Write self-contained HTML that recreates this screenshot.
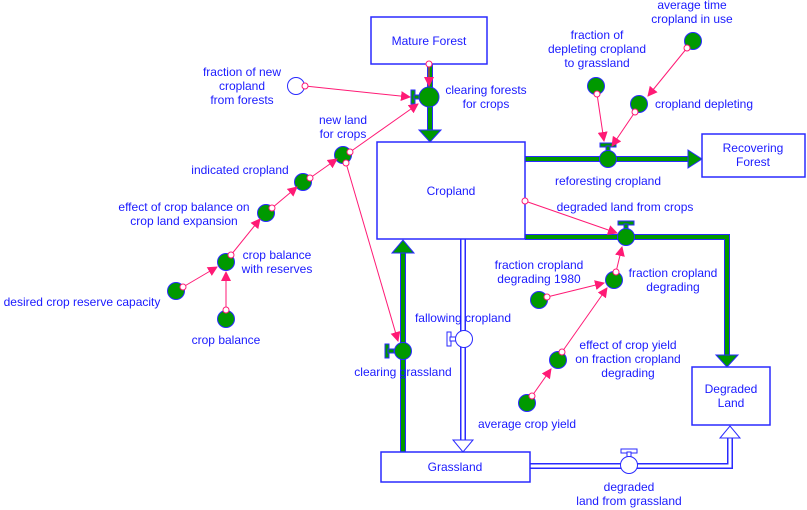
<!DOCTYPE html>
<html><head><meta charset="utf-8"><style>
html,body{margin:0;padding:0;background:#fff;}
svg{display:block;}
text{font-family:"Liberation Sans",Arial,sans-serif;font-size:12px;fill:#1a1aff;text-anchor:middle;}
</style></head><body>
<svg width="807" height="510" viewBox="0 0 807 510" xmlns="http://www.w3.org/2000/svg">
<defs>
<marker id="pa" markerWidth="10" markerHeight="10" refX="9" refY="5" orient="auto" markerUnits="userSpaceOnUse"><path d="M0,0 L10,5 L0,10 z" fill="#ff1a75"/></marker>
</defs>
<!-- green pipes -->
<g stroke-linejoin="miter" fill="none">
<path d="M430,64 V132" stroke="#2a2aff" stroke-width="6"/><path d="M430,64 V132" stroke="#009900" stroke-width="4"/>
<path d="M525,159 H690" stroke="#2a2aff" stroke-width="6"/><path d="M525,159 H690" stroke="#009900" stroke-width="4"/>
<path d="M525,237 H727 V356" stroke="#2a2aff" stroke-width="6"/><path d="M525,237 H727 V356" stroke="#009900" stroke-width="4"/>
<path d="M403,452 V252" stroke="#2a2aff" stroke-width="6"/><path d="M403,452 V252" stroke="#009900" stroke-width="4"/>
<!-- hollow pipes -->
<path d="M463,239 V442" stroke="#2a2aff" stroke-width="6"/><path d="M463,239 V442" stroke="#fff" stroke-width="3"/>
<path d="M530,466 H730 V438" stroke="#2a2aff" stroke-width="6"/><path d="M530,466 H730 V438" stroke="#fff" stroke-width="3"/>
</g>
<!-- arrowheads -->
<path d="M419,130 H441 L430,142 Z" fill="#009900" stroke="#2a2aff"/>
<path d="M688,150 V168 L702,159 Z" fill="#009900" stroke="#2a2aff"/>
<path d="M716,355 H738 L727,367 Z" fill="#009900" stroke="#2a2aff"/>
<path d="M392,253 H414 L403,240 Z" fill="#009900" stroke="#2a2aff"/>
<path d="M453,440 H473 L463,452 Z" fill="#fff" stroke="#2a2aff"/>
<path d="M720,438 H740 L730,426 Z" fill="#fff" stroke="#2a2aff"/>
<!-- stocks -->
<g fill="#fff" stroke="#2a2aff" stroke-width="1.5">
<rect x="371" y="17" width="116" height="47"/>
<rect x="377" y="142" width="148" height="97"/>
<rect x="381" y="452" width="149" height="30"/>
<rect x="702" y="134" width="103" height="43"/>
<rect x="692" y="367" width="78" height="58"/>
</g>
<text x="429" y="45">Mature Forest</text>
<text x="451" y="195">Cropland</text>
<text x="455" y="471">Grassland</text>
<text x="753" y="152">Recovering</text><text x="753" y="166">Forest</text>
<text x="731" y="393">Degraded</text><text x="731" y="407">Land</text>
<!-- valves -->
<g stroke="#2a2aff" stroke-width="1">
<rect x="411" y="90" width="4" height="14" fill="#009900"/><rect x="414" y="95" width="6" height="4" fill="#009900"/>
<circle cx="429" cy="97" r="10" fill="#009900"/>
<rect x="600" y="143" width="16" height="4" fill="#009900"/><rect x="606" y="146" width="4" height="6" fill="#009900"/>
<circle cx="608" cy="159" r="8.5" fill="#009900"/>
<rect x="618" y="221" width="16" height="4" fill="#009900"/><rect x="624" y="224" width="4" height="5" fill="#009900"/>
<circle cx="626" cy="237" r="8.5" fill="#009900"/>
<rect x="385" y="344" width="4" height="14" fill="#009900"/><rect x="388" y="349" width="6" height="4" fill="#009900"/>
<circle cx="403" cy="351" r="8.5" fill="#009900"/>
<rect x="447" y="332" width="4" height="14" fill="#fff"/><rect x="450" y="337" width="6" height="4" fill="#fff"/>
<circle cx="464" cy="339" r="8.5" fill="#fff"/>
<rect x="621" y="449" width="16" height="4" fill="#fff"/><rect x="627" y="452" width="4" height="5" fill="#fff"/>
<circle cx="629" cy="465" r="8.5" fill="#fff"/>
</g>
<!-- auxiliaries -->
<g stroke="#2a2aff" stroke-width="1" fill="#009900">
<circle cx="296" cy="86" r="8.5" fill="#fff"/>
<circle cx="343" cy="155" r="8.5"/>
<circle cx="303" cy="182" r="8.5"/>
<circle cx="266" cy="213" r="8.5"/>
<circle cx="226" cy="262" r="8.5"/>
<circle cx="176" cy="291" r="8.5"/>
<circle cx="226" cy="319" r="8.5"/>
<circle cx="596" cy="86" r="8.5"/>
<circle cx="693" cy="41" r="8.5"/>
<circle cx="639" cy="104" r="8.5"/>
<circle cx="539" cy="300" r="8.5"/>
<circle cx="614" cy="280" r="8.5"/>
<circle cx="558" cy="360" r="8.5"/>
<circle cx="527" cy="403" r="8.5"/>
</g>
<!-- connectors -->
<g stroke="#ff1a75" stroke-width="1" fill="none" marker-end="url(#pa)">
<path d="M429,64 V86"/>
<path d="M305,86 L410,97"/>
<path d="M350,152 L418,104"/>
<path d="M346,163 L398,341"/>
<path d="M310,178 L337,159"/>
<path d="M272,208 L297,187"/>
<path d="M231,255 L260,219"/>
<path d="M183,287 L217,267"/>
<path d="M226,310 V272"/>
<path d="M597,94 L604,141"/>
<path d="M687,48 L648,96"/>
<path d="M635,112 L612,146"/>
<path d="M525,201 L617,233"/>
<path d="M616,272 L622,247"/>
<path d="M547,297 L604,283"/>
<path d="M562,352 L607,288"/>
<path d="M532,396 L551,369"/>
</g>
<g stroke="#ff1a75" stroke-width="1" fill="#fff">
<circle cx="429" cy="64" r="3"/><circle cx="305" cy="86" r="3"/><circle cx="350" cy="152" r="3"/><circle cx="346" cy="163" r="3"/>
<circle cx="310" cy="178" r="3"/><circle cx="272" cy="208" r="3"/><circle cx="231" cy="255" r="3"/><circle cx="183" cy="287" r="3"/>
<circle cx="226" cy="310" r="3"/><circle cx="597" cy="94" r="3"/><circle cx="687" cy="48" r="3"/><circle cx="635" cy="112" r="3"/>
<circle cx="525" cy="201" r="3"/><circle cx="616" cy="272" r="3"/><circle cx="547" cy="297" r="3"/><circle cx="562" cy="352" r="3"/><circle cx="532" cy="396" r="3"/>
</g>
<!-- labels -->
<text x="242" y="76">fraction of new</text><text x="242" y="90">cropland</text><text x="242" y="104">from forests</text>
<text x="343" y="124">new land</text><text x="343" y="138">for crops</text>
<text x="240" y="174">indicated cropland</text>
<text x="184" y="211">effect of crop balance on</text><text x="184" y="225">crop land expansion</text>
<text x="277" y="259">crop balance</text><text x="277" y="273">with reserves</text>
<text x="82" y="306">desired crop reserve capacity</text>
<text x="226" y="344">crop balance</text>
<text x="486" y="94">clearing forests</text><text x="486" y="108">for crops</text>
<text x="597" y="39">fraction of</text><text x="597" y="53">depleting cropland</text><text x="597" y="67">to grassland</text>
<text x="692" y="9">average time</text><text x="692" y="23">cropland in use</text>
<text x="704" y="108">cropland depleting</text>
<text x="608" y="185">reforesting cropland</text>
<text x="625" y="211">degraded land from crops</text>
<text x="539" y="269">fraction cropland</text><text x="539" y="283">degrading 1980</text>
<text x="673" y="277">fraction cropland</text><text x="673" y="291">degrading</text>
<text x="628" y="349">effect of crop yield</text><text x="628" y="363">on fraction cropland</text><text x="628" y="377">degrading</text>
<text x="527" y="428">average crop yield</text>
<text x="463" y="322">fallowing cropland</text>
<text x="403" y="376">clearing grassland</text>
<text x="629" y="491">degraded</text><text x="629" y="505">land from grassland</text>
</svg>
</body></html>
